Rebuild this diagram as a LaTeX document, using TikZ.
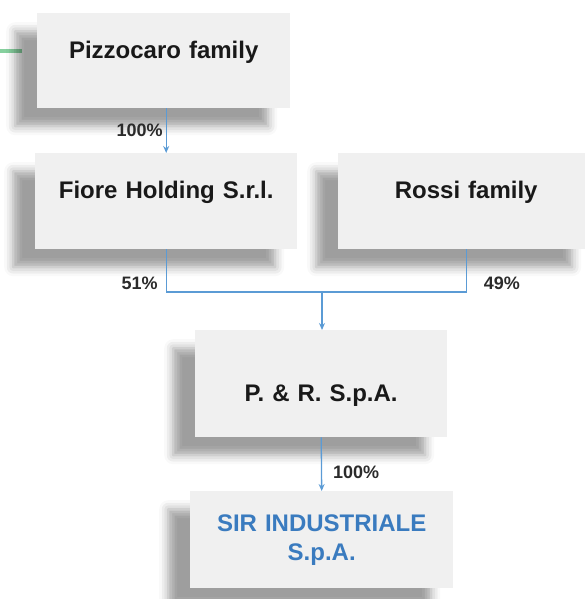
\documentclass[tikz,border=0pt]{standalone}
\usepackage{fontspec}
\setmainfont{Liberation Sans}
\usepackage{tikz}
\usetikzlibrary{arrows.meta, shadows.blur}
\definecolor{boxgray}{HTML}{F0F0F0}
\definecolor{linkblue}{HTML}{5B9BD5}
\definecolor{sirblue}{HTML}{3A7BBF}
\definecolor{pctgray}{HTML}{2B2B2B}
\definecolor{greenbar}{HTML}{86D09E}
\tikzstyle{entity} = [anchor=north west, fill=boxgray, inner sep=0pt, align=center,
  font=\fontsize{24}{29}\selectfont\bfseries, text=black!90,
  blur shadow={shadow xshift=-22pt, shadow yshift=-18pt, shadow blur radius=9pt, shadow opacity=38}]
\tikzstyle{link} = [linkblue, line width=1.3pt, -{Stealth[length=7pt, width=6pt]}]
\tikzstyle{joint} = [linkblue, line width=1.3pt]
\tikzstyle{pct} = [font=\fontsize{18}{20}\selectfont\bfseries, text=pctgray, inner sep=3pt]

\begin{document}
\begin{tikzpicture}[x=1pt, y=-1pt]
    \useasboundingbox (0,0) rectangle (585,599);
    \draw[greenbar, line width=3.5pt] (0,51) -- (22,51);

    % Owners
    \node[entity, text width=253pt, text height=45.6pt, text depth=49.4pt] (pizzo) at (37,13) {Pizzocaro family};
    \node[entity, text width=262pt, text height=45.6pt, text depth=50.4pt] (fiore) at (35,153) {Fiore Holding S.r.l.};
    \node[entity, text width=256pt, text height=45.6pt, text depth=50.4pt] (rossi) at (338,153) {Rossi family};

    % Companies
    \node[entity, text width=252pt, text height=71.6pt, text depth=35.4pt] (pr) at (195,330) {P. \& R. S.p.A.};
    \node[entity, text width=263pt, minimum height=97pt, text=sirblue] (sir) at (190,491) {SIR INDUSTRIALE\\S.p.A.};

    \coordinate (join) at (322,292);

    % Shares
    \draw[link] (fiore.north |- pizzo.south) -- node[pct, midway, left] (p100a) {100\%} (fiore.north);
    \draw[joint] (fiore.south) |- node[pct, pos=0.4, left, xshift=-5pt] (p51) {51\%} (join);
    \draw[joint] (rossi.south) |- node[pct, pos=0.4, right, xshift=14pt] (p49) {49\%} (join);
    \draw[link] (join) -- (join |- pr.north);
    \draw[link] (pr.south) -- node[pct, pos=0.65, right, xshift=8pt] (p100b) {100\%} (sir.north);
\end{tikzpicture}
\end{document}
